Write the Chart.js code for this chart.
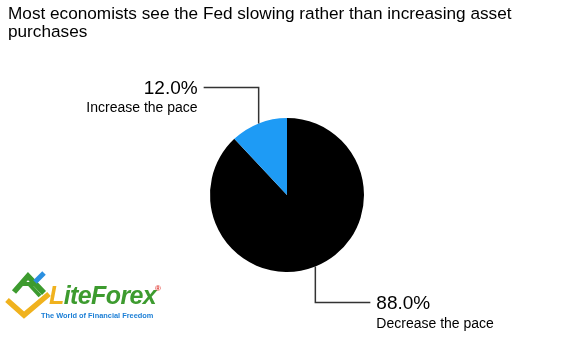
<!DOCTYPE html>
<html>
<head>
<meta charset="utf-8">
<script src="https://cdn.jsdelivr.net/npm/chart.js@4.4.1/dist/chart.umd.min.js"></script>
<style>
  html, body { margin: 0; padding: 0; background: #fff; }
  #wrap { position: relative; width: 562px; height: 354px; overflow: hidden; }
  canvas { position: absolute; left: 0; top: 0; }
  #logo { position: absolute; left: 4px; top: 270px; width: 170px; height: 56px; }
  #logo .brand { position: absolute; left: 45px; top: 11px; font: italic bold 25px "Liberation Sans", Arial, sans-serif; color: #3d9b2f; letter-spacing: -0.6px; }
  #logo .brand .l { color: #f0b21e; }
  #logo .reg { position: absolute; left: 151px; top: 14px; font: bold 8px "Liberation Sans", Arial, sans-serif; color: #e0302a; }
  #logo .tag { position: absolute; left: 37px; top: 41px; font: bold 7.4px "Liberation Sans", Arial, sans-serif; color: #1c7fd6; white-space: nowrap; }
  #logo svg { position: absolute; left: 0; top: 0; }
</style>
</head>
<body>
<div id="wrap">
  <canvas id="c" width="562" height="354"></canvas>
  <div id="logo">
    <svg width="60" height="50" viewBox="0 0 60 50">
      <polyline points="3,30 20,45 45,24" fill="none" stroke="#f0b21e" stroke-width="5.5" stroke-linejoin="miter"/>
      <polyline points="10,22 24,6 40,23" fill="none" stroke="#3d9b2f" stroke-width="5.5"/>
      <line x1="17" y1="14" x2="33" y2="14" stroke="#3d9b2f" stroke-width="4"/>
      <line x1="25" y1="14" x2="36" y2="26" stroke="#3d9b2f" stroke-width="4"/>
      <line x1="31" y1="12" x2="40" y2="3" stroke="#2a8fe0" stroke-width="5"/>
    </svg>
    <span class="brand"><span class="l">L</span>iteForex</span>
    <span class="reg">®</span>
    <span class="tag">The World of Financial Freedom</span>
  </div>
</div>
<script>
// ---- data ----
const titleLines = ['Most economists see the Fed slowing rather than increasing asset', 'purchases'];
const categories = ['Decrease the pace', 'Increase the pace'];
const values = [88.0, 12.0];
const sliceColors = ['#000000', '#1e9bf5'];

const FONT = '"Liberation Sans", Arial, Helvetica, sans-serif';

const titlePlugin = {
  id: 'titleText',
  afterDraw(chart) {
    const ctx = chart.ctx;
    ctx.save();
    ctx.fillStyle = '#000';
    ctx.font = '17.2px ' + FONT;
    ctx.textAlign = 'left';
    ctx.textBaseline = 'alphabetic';
    titleLines.forEach((t, i) => ctx.fillText(t, 8, 19 + i * 18));
    ctx.restore();
  }
};

const leaderPlugin = {
  id: 'leaders',
  afterDatasetsDraw(chart) {
    const ctx = chart.ctx;
    const meta = chart.getDatasetMeta(0);
    const total = values.reduce((a, b) => a + b, 0);
    meta.data.forEach((arc, i) => {
      const mid = (arc.startAngle + arc.endAngle) / 2;
      const x0 = arc.x + Math.cos(mid) * arc.outerRadius;
      const y0 = arc.y + Math.sin(mid) * arc.outerRadius;
      const vs = Math.sin(mid) < 0 ? -1 : 1;
      const hs = Math.cos(mid) < 0 ? -1 : 1;
      const y1 = y0 + vs * 36;
      const x1 = x0 + hs * 55;
      ctx.save();
      ctx.strokeStyle = '#333';
      ctx.lineWidth = 1.5;
      ctx.beginPath();
      ctx.moveTo(x0, y0);
      ctx.lineTo(x0, y1);
      ctx.lineTo(x1, y1);
      ctx.stroke();
      const tx = x1 + hs * 6;
      ctx.fillStyle = '#000';
      ctx.textAlign = hs < 0 ? 'right' : 'left';
      ctx.font = '19px ' + FONT;
      ctx.textBaseline = 'middle';
      ctx.fillText((values[i] / total * 100).toFixed(1) + '%', tx, y1 + 1);
      ctx.font = '14px ' + FONT;
      ctx.textBaseline = 'alphabetic';
      ctx.fillText(categories[i], tx, y1 + 25);
      ctx.restore();
    });
  }
};

new Chart(document.getElementById('c'), {
  type: 'pie',
  data: {
    labels: categories,
    datasets: [{
      data: values,
      backgroundColor: sliceColors,
      borderWidth: 0,
      hoverOffset: 0
    }]
  },
  options: {
    responsive: false,
    devicePixelRatio: 1,
    animation: false,
    layout: { padding: { left: 210, right: 198, top: 118, bottom: 82 } },
    plugins: {
      legend: { display: false },
      title: { display: false },
      tooltip: { enabled: false }
    }
  },
  plugins: [titlePlugin, leaderPlugin]
});
</script>
</body>
</html>
